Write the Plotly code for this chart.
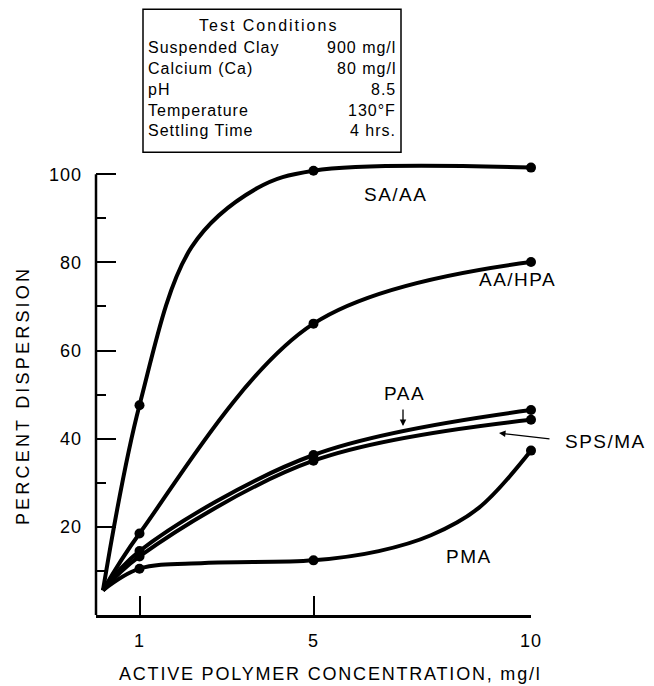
import plotly.graph_objects as go

# ---- data ----
# marked measurements are at 1, 5 and 10 mg/l; the other values are unmarked
# points read along the drawn curves (start of curves and shape of the bends)
conc = [0.16, 1, 5, 10]
sa_aa_x = [0.16, 1, 2.2, 3.7, 5, 10]
sa_aa = [5.6, 47.6, 83.5, 96.8, 100.8, 101.5]
aa_hpa = [5.6, 18.5, 66.1, 80.1]
paa = [5.6, 14.5, 36.3, 46.5]
sps_ma = [5.6, 13.3, 35.0, 44.3]
pma_x = [0.16, 1, 2.5, 5, 6.5, 7.7, 8.8, 10]
pma = [5.6, 10.5, 11.8, 12.4, 14.5, 18.1, 24.3, 37.3]

marked_x = [1, 5, 10]

series_names = ["SA/AA", "AA/HPA", "PAA", "SPS/MA", "PMA"]
series_x = [sa_aa_x, conc, conc, conc, pma_x]
series_values = [sa_aa, aa_hpa, paa, sps_ma, pma]

x_ticks = [1, 5, 10]
y_ticks = [20, 40, 60, 80, 100]
y_minor = [10, 30, 50, 70, 90]

cond_labels = ["Suspended Clay", "Calcium (Ca)", "pH", "Temperature", "Settling Time"]
cond_values = ["900 mg/l", "80 mg/l", "8.5", "130\u00b0F", "4 hrs."]

FONT = "Liberation Sans, Arial, Helvetica, sans-serif"


def sp(text, px_):
    return '<span style="letter-spacing:%spx">%s</span>' % (px_, text)


fig = go.Figure()
for name, xs, vals in zip(series_names, series_x, series_values):
    sizes = [10 if x in marked_x else 0 for x in xs]
    fig.add_trace(go.Scatter(
        x=xs, y=vals, name=name, mode="lines+markers",
        line=dict(color="black", width=4, shape="spline", smoothing=1.0),
        marker=dict(color="#000000", size=sizes, opacity=1, line=dict(width=0)),
        showlegend=False, cliponaxis=False,
    ))

W, H = 654, 686
YMAX = 103
Y100_PIX, Y0_PIX = 174, 615
ppu = (Y0_PIX - Y100_PIX) / 100.0
L, R = 96, 531
B = Y0_PIX
T = Y100_PIX - (YMAX - 100) * ppu
pw, ph = R - L, B - T


def px(X):
    return (X - L) / pw


def py(Y):
    return (B - Y) / ph


annotations = []
curve_lab = [("SA/AA", 395, 194), ("AA/HPA", 517, 279), ("PAA", 404, 393),
             ("SPS/MA", 605, 441), ("PMA", 469, 556)]
for txt, X, Y in curve_lab:
    annotations.append(dict(x=px(X), y=py(Y), xref="paper", yref="paper",
                            text=sp(txt, 1.5), showarrow=False, xanchor="center", yanchor="middle",
                            font=dict(family=FONT, size=19, color="black")))

# PAA arrow
annotations.append(dict(x=px(403), y=py(426), xref="paper", yref="paper", text="",
                        showarrow=True, ax=0, ay=-18, arrowhead=2, arrowsize=1,
                        arrowwidth=1.3, arrowcolor="black"))
# SPS/MA arrow
annotations.append(dict(x=px(499), y=py(433), xref="paper", yref="paper", text="",
                        showarrow=True, ax=52, ay=6, arrowhead=2, arrowsize=1,
                        arrowwidth=1.3, arrowcolor="black"))

# test conditions box text
annotations.append(dict(x=px(268), y=py(25), xref="paper", yref="paper",
                        text=sp("Test Conditions", 2), showarrow=False, xanchor="center",
                        yanchor="middle", font=dict(family=FONT, size=16, color="black")))
row_y = [47, 68, 89, 110, 130]
for lab, val, Y in zip(cond_labels, cond_values, row_y):
    annotations.append(dict(x=px(146), y=py(Y), xref="paper", yref="paper", text=sp(lab, 1),
                            showarrow=False, xanchor="left", yanchor="middle",
                            font=dict(family=FONT, size=16, color="black")))
    annotations.append(dict(x=px(398), y=py(Y), xref="paper", yref="paper", text=sp(val, 1),
                            showarrow=False, xanchor="right", yanchor="middle",
                            font=dict(family=FONT, size=16, color="black")))

# axis titles
annotations.append(dict(x=px(330), y=py(674), xref="paper", yref="paper",
                        text=sp("ACTIVE POLYMER CONCENTRATION, mg/l", 1.8), showarrow=False,
                        xanchor="center", yanchor="middle",
                        font=dict(family=FONT, size=18, color="black")))
annotations.append(dict(x=px(23), y=py(396), xref="paper", yref="paper",
                        text=sp("PERCENT DISPERSION", 3.2), showarrow=False, textangle=-90,
                        xanchor="center", yanchor="middle",
                        font=dict(family=FONT, size=18, color="black")))

shapes = [
    dict(type="rect", xref="paper", yref="paper",
         x0=px(143), x1=px(401), y0=py(152), y1=py(9),
         line=dict(color="black", width=1.5), fillcolor="rgba(0,0,0,0)"),
    # y axis line (ends at the 100 tick)
    dict(type="line", xref="paper", yref="paper", x0=0, x1=0, y0=0, y1=100.0 / YMAX,
         line=dict(color="black", width=2.5)),
]

fig.update_layout(
    width=W, height=H,
    margin=dict(l=L, r=W - R, t=T, b=H - B, pad=0),
    paper_bgcolor="white", plot_bgcolor="white",
    annotations=annotations, shapes=shapes,
    font=dict(family=FONT, color="black"),
)
fig.update_xaxes(range=[0, 10], tickvals=x_ticks, ticktext=[sp(str(v), 1) for v in x_ticks],
                 ticks="inside", ticklen=19, tickwidth=1.5, tickcolor="black",
                 showline=True, linecolor="black", linewidth=2.5, showgrid=False,
                 zeroline=False, ticklabelstandoff=8,
                 tickfont=dict(family=FONT, size=18, color="black"))
fig.update_yaxes(range=[0, YMAX], tickvals=y_ticks, ticktext=[sp(str(v), 1) for v in y_ticks],
                 ticks="inside", ticklen=20, tickwidth=2, tickcolor="black",
                 minor=dict(tickvals=y_minor, ticks="inside", ticklen=10, tickwidth=1.5,
                            tickcolor="black", showgrid=False),
                 showline=False, showgrid=False,
                 zeroline=False, ticklabelstandoff=13,
                 tickfont=dict(family=FONT, size=18, color="black"))

fig.write_html("out.html")
